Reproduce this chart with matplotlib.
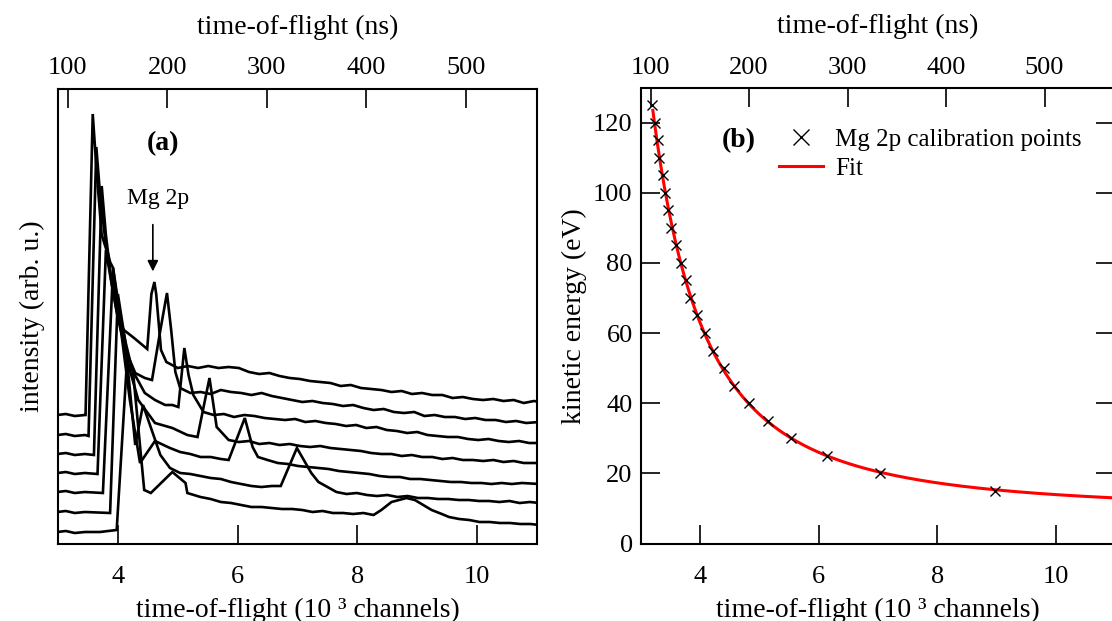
import numpy as np
import matplotlib
matplotlib.use("Agg")
import matplotlib.pyplot as plt
from matplotlib.lines import Line2D

plt.rcParams['font.family'] = ['Liberation Serif', 'DejaVu Serif']

# ---------------- Panel (a): TOF spectra (x in 10^3 channels, intensity arb. u.) -------------
t1_x = [2.99, 3.13, 3.28, 3.45, 3.46, 3.58, 3.65, 3.73, 3.82, 3.90, 4.00, 4.10, 4.27, 4.49, 4.56, 4.61, 4.64,
        4.72, 4.81, 5.00, 5.17, 5.34, 5.51, 5.68, 5.85, 6.02, 6.19, 6.36, 6.53, 6.70, 6.87, 7.04, 7.21,
        7.38, 7.55, 7.72, 7.89, 8.06, 8.23, 8.40, 8.57, 8.74, 8.91, 9.08, 9.25, 9.42, 9.59, 9.76, 9.93,
        10.10, 10.27, 10.44, 10.61, 10.78, 10.95, 11.04]
t1_y = [129, 130, 128, 129, 129, 430, 369, 309, 292, 259, 226, 214, 206, 195, 250, 262, 250,
        194, 182, 176, 178, 176, 178, 176, 177, 176, 172, 170, 171, 168, 166, 165, 163,
        162, 161, 158, 159, 156, 155, 154, 152, 153, 150, 151, 149, 149, 146, 147, 145,
        144, 145, 143, 144, 141, 143, 142]

t2_x = [2.99, 3.13, 3.28, 3.45, 3.51, 3.64, 3.71, 3.80, 3.87, 3.92, 4.00, 4.03, 4.15, 4.29, 4.45, 4.57, 4.71,
        4.82, 4.89, 4.96, 5.04, 5.21, 5.38, 5.55, 5.72, 5.89, 6.06, 6.23, 6.40, 6.57, 6.74, 6.91, 7.08,
        7.25, 7.42, 7.59, 7.76, 7.93, 8.10, 8.27, 8.44, 8.61, 8.78, 8.95, 9.12, 9.29, 9.46, 9.63, 9.80,
        9.97, 10.14, 10.31, 10.48, 10.65, 10.82, 11.04]
t2_y = [109, 110, 108, 109, 108, 397, 344, 299, 282, 276, 244, 224, 191, 171, 166, 164, 214,
        251, 214, 172, 156, 151, 152, 150, 154, 152, 151, 149, 151, 148, 146, 144, 142,
        143, 141, 140, 138, 139, 136, 134, 135, 132, 131, 132, 128, 129, 127, 127, 125,
        126, 124, 124, 122, 123, 121, 122]

t3_x = [2.99, 3.13, 3.28, 3.45, 3.60, 3.73, 3.80, 3.88, 4.00, 4.12, 4.24, 4.45, 4.62, 4.79, 4.91, 5.01, 5.11,
        5.18, 5.26, 5.43, 5.60, 5.77, 5.94, 6.11, 6.28, 6.45, 6.62, 6.79, 6.96, 7.13, 7.30, 7.47, 7.64,
        7.81, 7.98, 8.15, 8.32, 8.49, 8.66, 8.83, 9.00, 9.17, 9.34, 9.51, 9.68, 9.85, 10.02, 10.19,
        10.36, 10.53, 10.70, 10.87, 11.04]
t3_y = [90, 91, 89, 90, 89, 358, 309, 269, 239, 204, 174, 151, 144, 139, 139, 137, 196,
        169, 149, 132, 129, 130, 127, 129, 128, 126, 125, 124, 125, 122, 123, 121, 120,
        118, 119, 116, 117, 114, 113, 111, 112, 109, 108, 107, 107, 105, 104, 105,
        103, 102, 103, 101, 101]

t4_x = [2.99, 3.13, 3.28, 3.45, 3.66, 3.80, 3.87, 4.00, 4.20, 4.34, 4.62, 4.91, 5.16, 5.33, 5.53, 5.65, 5.85,
        6.02, 6.19, 6.36, 6.53, 6.70, 6.87, 7.04, 7.21, 7.38, 7.55, 7.72, 7.89, 8.06, 8.23, 8.40, 8.57,
        8.74, 8.91, 9.08, 9.25, 9.42, 9.59, 9.76, 9.93, 10.10, 10.27, 10.44, 10.61, 10.78, 11.04]
t4_y = [71, 72, 70, 71, 70, 294, 269, 226, 174, 144, 121, 116, 109, 107, 166, 117, 104,
        102, 103, 100, 101, 99, 100, 98, 97, 98, 96, 95, 94, 93, 91, 90, 90,
        88, 89, 87, 87, 85, 86, 84, 84, 83, 84, 82, 83, 81, 81]

t5_x = [2.99, 3.13, 3.28, 3.45, 3.75, 3.92, 4.03, 4.20, 4.37, 4.62, 4.87, 5.04, 5.21, 5.38, 5.55, 5.72, 5.85,
        6.12, 6.25, 6.34, 6.50, 6.67, 6.84, 7.01, 7.18, 7.35, 7.52, 7.69, 7.86, 8.03, 8.20, 8.37, 8.54,
        8.71, 8.88, 9.05, 9.22, 9.39, 9.56, 9.73, 9.90, 10.07, 10.24, 10.41, 10.58, 10.75, 11.04]
t5_y = [52, 53, 51, 52, 51, 276, 224, 144, 81, 103, 96, 92, 90, 87, 87, 85, 84,
        126, 97, 87, 84, 81, 80, 78, 77, 76, 75, 73, 72, 71, 70, 68, 67,
        67, 65, 65, 64, 63, 62, 62, 61, 61, 60, 61, 60, 61, 60]

t6_x = [2.99, 3.13, 3.28, 3.45, 3.87, 4.00, 4.12, 4.29, 4.42, 4.71, 4.87, 5.04, 5.21, 5.38, 5.55, 5.72, 5.89,
        6.06, 6.23, 6.40, 6.57, 6.72, 6.99, 7.23, 7.35, 7.65, 7.82, 7.99, 8.16, 8.33, 8.50, 8.67, 8.84,
        9.01, 9.18, 9.35, 9.52, 9.69, 9.86, 10.03, 10.20, 10.37, 10.54, 10.71, 10.88, 11.04]
t6_y = [32, 33, 31, 32, 31, 250, 204, 99, 139, 89, 76, 71, 70, 68, 66, 65, 62,
        60, 58, 57, 58, 58, 96, 71, 62, 52, 50, 51, 49, 48, 49, 47, 48,
        46, 46, 45, 45, 44, 44, 43, 43, 42, 43, 41, 42, 41]

t7_x = [2.99, 3.13, 3.28, 3.45, 3.70, 3.98, 4.15, 4.25, 4.44, 4.55, 4.91, 5.13, 5.16, 5.38, 5.55, 5.72, 5.89,
        6.06, 6.23, 6.40, 6.57, 6.74, 6.91, 7.08, 7.25, 7.42, 7.59, 7.76, 7.93, 8.10, 8.27, 8.40, 8.57,
        8.82, 8.96, 9.24, 9.41, 9.53, 9.70, 9.87, 10.04, 10.21, 10.38, 10.55, 10.72, 10.89, 11.04]
t7_y = [12, 13, 11, 12, 12, 14, 181, 174, 54, 51, 72, 61, 51, 47, 45, 42, 41,
        39, 37, 37, 36, 35, 35, 34, 32, 33, 31, 31, 30, 31, 29, 34, 42,
        46, 44, 34, 30, 27, 25, 24, 22, 22, 21, 21, 20, 20, 19]

traces_x = [t1_x, t2_x, t3_x, t4_x, t5_x, t6_x, t7_x]
traces_y = [t1_y, t2_y, t3_y, t4_y, t5_y, t6_y, t7_y]

# ---------------- Panel (b): calibration points -------------
cal_ch = [3.18, 3.24, 3.28, 3.31, 3.37, 3.41, 3.45, 3.51, 3.59, 3.67, 3.76, 3.83, 3.95, 4.08, 4.22,
          4.40, 4.57, 4.83, 5.14, 5.53, 6.14, 7.04, 8.97]
cal_ke = [125, 120, 115, 110, 105, 100, 95, 90, 85, 80, 75, 70, 65, 60, 55,
          50, 45, 40, 35, 30, 25, 20, 15]

ns_ticks = [100, 200, 300, 400, 500]
ch_ticks = [4, 6, 8, 10]
ke_ticks = [0, 20, 40, 60, 80, 100, 120]

NS_PER_KCH = 60.15
NS_OFFSET = -90.1


def ch2ns(c):
    return NS_PER_KCH * np.asarray(c) + NS_OFFSET


def ns2ch(t):
    return (np.asarray(t) - NS_OFFSET) / NS_PER_KCH


# least-squares fit  KE = a/(ch-c)^2 + b   (grid search on c)
cc = np.asarray(cal_ch)
ke = np.asarray(cal_ke, dtype=float)
best = None
for c0 in np.linspace(0.0, 3.1, 621):
    A = np.vstack([1.0 / (cc - c0) ** 2, np.ones_like(cc)]).T
    sol, res, *_ = np.linalg.lstsq(A, ke, rcond=None)
    r = np.sum((A @ sol - ke) ** 2)
    if best is None or r < best[0]:
        best = (r, c0, sol)
_, c_fit, (a_fit, b_fit) = best
fit_x = np.linspace(3.2, 11.1, 400)
fit_y = a_fit / (fit_x - c_fit) ** 2 + b_fit

# ---------------- Figure -------------
W, H = 1112, 621
fig = plt.figure(figsize=(W / 100, H / 100), dpi=100)

TICKLEN = 13.5
LBL = 20
TCK = 19


def style_axes(ax):
    ax.set_xlim(3, 11)
    ax.set_xticks(ch_ticks)
    ax.tick_params(axis='x', direction='in', length=TICKLEN, width=1.2, labelsize=TCK, pad=16)
    ax.set_xlabel('time-of-flight (10 ³ channels)', fontsize=LBL, labelpad=7)
    for s in ax.spines.values():
        s.set_linewidth(1.5)
    ax.spines['top'].set_visible(False)
    sec = ax.secondary_xaxis('top', functions=(ch2ns, ns2ch))
    sec.set_xticks(ns_ticks)
    sec.tick_params(direction='in', length=TICKLEN, width=1.2, labelsize=TCK, pad=7)
    sec.set_xlabel('time-of-flight (ns)', fontsize=LBL, labelpad=17)
    sec.spines['top'].set_linewidth(1.5)
    return sec


axa = fig.add_axes([58 / W, (H - 544) / H, 479 / W, 455 / H])
for tx, ty in zip(traces_x, traces_y):
    axa.plot(tx, ty, color='black', lw=1.9, solid_joinstyle='miter')
axa.set_ylim(0, 455)
axa.set_yticks([])
style_axes(axa)
axa.set_ylabel('intensity (arb. u.)', fontsize=LBL, labelpad=9)
axa.text(0.219, 0.881, '(a)', transform=axa.transAxes, fontsize=20, fontweight='bold',
         ha='center', va='center')
axa.text(0.209, 0.760, 'Mg 2p', transform=axa.transAxes, fontsize=17, ha='center', va='center')
axa.annotate('', xy=(0.198, 0.593), xytext=(0.198, 0.708), xycoords='axes fraction',
             arrowprops=dict(arrowstyle='-|>', color='black', lw=1.2, mutation_scale=16))

axb = fig.add_axes([641 / W, (H - 543.5) / H, 474 / W, 455 / H])
axb.plot(fit_x, fit_y, color='red', lw=2.2, zorder=2)
axb.plot(cal_ch, cal_ke, linestyle='none', marker='x', color='black', ms=6.5, mew=1.0, zorder=3)
axb.set_ylim(0, 129.7)
axb.set_yticks(ke_ticks)
style_axes(axb)
axb.tick_params(axis='y', direction='in', length=TICKLEN, width=1.2, labelsize=TCK, pad=6,
                right=True)
axb.set_ylabel('kinetic energy (eV)', fontsize=LBL, labelpad=4)
axb.text(0.207, 0.885, '(b)', transform=axb.transAxes, fontsize=20, fontweight='bold',
         ha='center', va='center')
handles = [Line2D([], [], linestyle='none', marker='x', color='black', ms=11, mew=1.0),
           Line2D([], [], color='red', lw=2.2)]
axb.legend(handles, ['Mg 2p calibration points', 'Fit'], loc='upper left',
           bbox_to_anchor=(0.27, 0.935), frameon=False, fontsize=18, handlelength=1.75,
           handletextpad=0.5, labelspacing=0.28, borderaxespad=0)

fig.savefig('out.png', dpi=100)
